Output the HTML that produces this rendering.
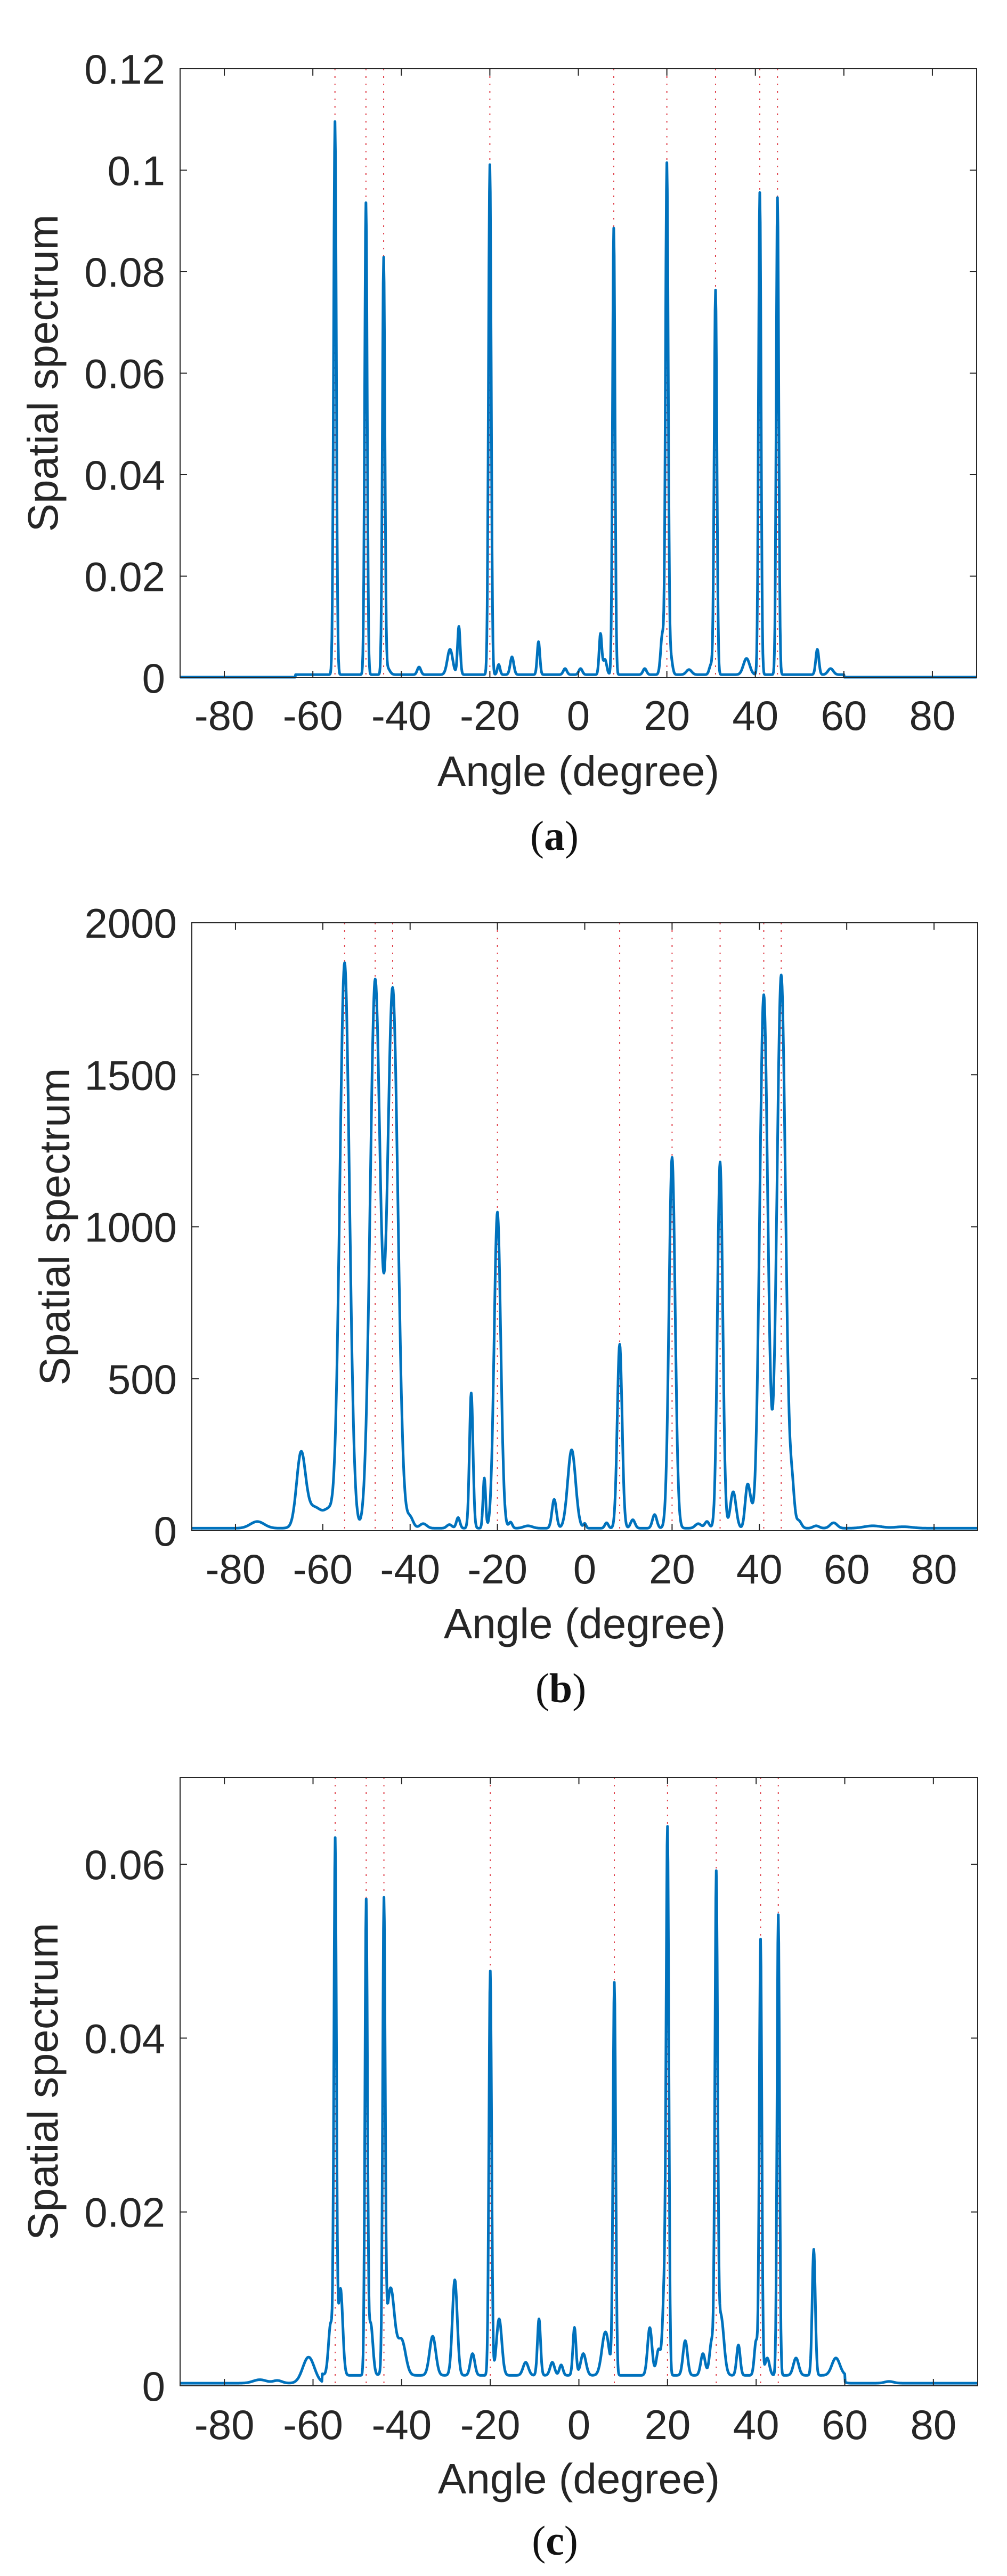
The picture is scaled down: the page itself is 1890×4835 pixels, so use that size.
<!DOCTYPE html>
<html><head><meta charset="utf-8">
<style>
html,body{margin:0;padding:0;background:#fff;}
svg{display:block;}
text{font-family:"Liberation Sans",Arial,sans-serif;fill:#262626;}
.cap{font-family:"Liberation Serif",serif;fill:#111;}
</style></head>
<body>
<svg id="s" width="1890" height="4835" viewBox="0 0 1890 4835" xmlns="http://www.w3.org/2000/svg"></svg>
<script>
const NS="http://www.w3.org/2000/svg";
const svg=document.getElementById('s');
function el(t,a,txt){const e=document.createElementNS(NS,t);for(const k in a)e.setAttribute(k,a[k]);if(txt!==undefined)e.textContent=txt;svg.appendChild(e);return e;}
const doas=[-55,-48,-44,-20,8,20,31,41,45];
function chart(o){
  const {L,R,T,B,ymax,yt,ylab,fmt,peaks,base,cap,tickY,xlabY,capY}=o;
  const X=a=>L+(a+90)/180*(R-L);
  const Y=v=>B-v/ymax*(B-T);
  doas.forEach(a=>el('line',{x1:X(a),x2:X(a),y1:T,y2:B,stroke:'#e0404a','stroke-width':2,'stroke-dasharray':'3 11'}));
  let d='';
  for(let a=-90;a<=90.001;a+=0.1){
    let v=base(a);
    for(const p of peaks){const z=(a-p[0])/p[2];v+=p[1]*Math.exp(-0.5*z*z);}
    v=Math.min(v,ymax);
    d+=(d?'L':'M')+X(a).toFixed(1)+' '+Y(v).toFixed(1);
  }
  el('path',{d:d,fill:'none',stroke:'#0072BD','stroke-width':5,'stroke-linejoin':'round'});
  el('rect',{x:L,y:T,width:R-L,height:B-T,fill:'none',stroke:'#262626','stroke-width':2});
  for(let a=-80;a<=80;a+=20){
    const x=X(a);
    el('line',{x1:x,x2:x,y1:B,y2:B-13,stroke:'#262626','stroke-width':2});
    el('line',{x1:x,x2:x,y1:T,y2:T+13,stroke:'#262626','stroke-width':2});
    el('text',{x:x,y:tickY,'font-size':78,'text-anchor':'middle'},String(a));
  }
  yt.forEach(v=>{
    const y=Y(v);
    el('line',{x1:L,x2:L+13,y1:y,y2:y,stroke:'#262626','stroke-width':2});
    el('line',{x1:R,x2:R-13,y1:y,y2:y,stroke:'#262626','stroke-width':2});
    el('text',{x:L-28,y:y+28,'font-size':78,'text-anchor':'end'},fmt(v));
  });
  el('text',{x:0,y:0,'font-size':80,'text-anchor':'middle',transform:`translate(${L-230},${(T+B)/2}) rotate(-90)`},ylab);
  el('text',{x:(L+R)/2,y:xlabY,'font-size':80,'text-anchor':'middle'},'Angle (degree)');
  const c=el('text',{x:(L+R)/2-45,y:capY,'font-size':78,'text-anchor':'middle',class:'cap'});
  c.innerHTML='(<tspan font-weight="bold">'+cap+'</tspan>)';
}
chart({L:338,R:1833,T:129,B:1272,ymax:0.12,yt:[0,0.02,0.04,0.06,0.08,0.1,0.12],ylab:'Spatial spectrum',
 fmt:v=>v===0?'0':String(+v.toFixed(2)),
 tickY:1370,xlabY:1475,capY:1595,cap:'a',
 base:a=>(a>-64&&a<60)?0.0006:0.0001,
 peaks:[[-55,0.109,0.3],[-48,0.093,0.28],[-44,0.0815,0.28],[-20,0.1005,0.3],[8,0.088,0.28],[20,0.1,0.3],[31,0.0757,0.3],[41,0.095,0.28],[45,0.094,0.28],
 [-43.3,0.0015,0.6],[-36,0.0015,0.4],[-29,0.005,0.6],[-27,0.0095,0.3],[-18,0.002,0.3],[-15,0.0035,0.4],[-9,0.0065,0.3],[-3,0.0012,0.4],[0.5,0.0012,0.4],[5,0.008,0.3],[6,0.003,0.4],[15,0.0012,0.4],[19,0.008,0.4],[20.8,0.004,0.4],[25,0.001,0.6],[30,0.002,0.4],[38,0.0032,0.7],[54,0.005,0.35],[57,0.0012,0.6]]});
chart({L:360,R:1835,T:1732,B:2873,ymax:2000,yt:[0,500,1000,1500,2000],ylab:'Spatial spectrum',
 fmt:v=>String(v),
 tickY:2972,xlabY:3075,capY:3195,cap:'b',
 base:a=>8,
 peaks:[[-75,22,1.6],[-65,225,1.0],[-62,70,2.2],[-58.5,40,1],[-55,1860,1.1],[-48,1800,1.15],[-44,1775,1.2],[-40,35,0.7],[-37,15,0.8],[-31,12,0.6],[-29,35,0.4],[-26,445,0.4],[-23,165,0.3],[-20,1040,0.75],[-17,20,0.4],[-13,8,1],[-7,95,0.5],[-3,258,0.9],[0,15,0.3],[5,18,0.4],[8,605,0.55],[11,28,0.5],[16,45,0.5],[20,1220,0.7],[26,15,0.7],[28,22,0.5],[31,1205,0.6],[34,120,0.65],[37.2,125,0.5],[38,60,0.5],[41,1755,0.92],[45,1820,0.98],[47.5,120,0.5],[49,25,0.6],[53,8,0.7],[57,18,0.8],[66,8,2],[73,5,2]]});
chart({L:338,R:1835,T:3336,B:4478,ymax:0.07,yt:[0,0.02,0.04,0.06],ylab:'Spatial spectrum',
 fmt:v=>v===0?'0':String(+v.toFixed(2)),
 tickY:4578,xlabY:4680,capY:4795,cap:'c',
 base:a=>(a>-58&&a<60)?0.0012:0.0003,
 peaks:[[-72,0.0004,1.5],[-68,0.0003,1],[-61,0.003,1.3],[-56,0.006,0.5],[-55,0.0605,0.28],[-53.8,0.01,0.5],[-48,0.054,0.28],[-47,0.006,0.5],[-44,0.0525,0.28],[-42.5,0.01,0.9],[-40,0.004,0.9],[-33,0.0045,0.7],[-28,0.011,0.55],[-24,0.0025,0.5],[-20,0.0465,0.3],[-18,0.0065,0.6],[-12,0.0015,0.6],[-9,0.0065,0.35],[-6,0.0015,0.5],[-4,0.0012,0.4],[-1,0.0055,0.35],[1,0.0025,0.6],[6,0.005,0.8],[8,0.045,0.3],[16,0.0055,0.5],[18,0.003,0.5],[19.3,0.01,0.4],[20,0.061,0.3],[24,0.004,0.5],[28,0.0025,0.5],[30,0.004,0.5],[31,0.055,0.3],[32,0.007,0.7],[36,0.0035,0.4],[40,0.004,0.4],[41,0.05,0.28],[42.5,0.002,0.5],[45,0.053,0.28],[49,0.002,0.6],[53,0.0145,0.35],[58,0.002,0.9],[70,0.0002,1]]});
</script>
</body></html>
